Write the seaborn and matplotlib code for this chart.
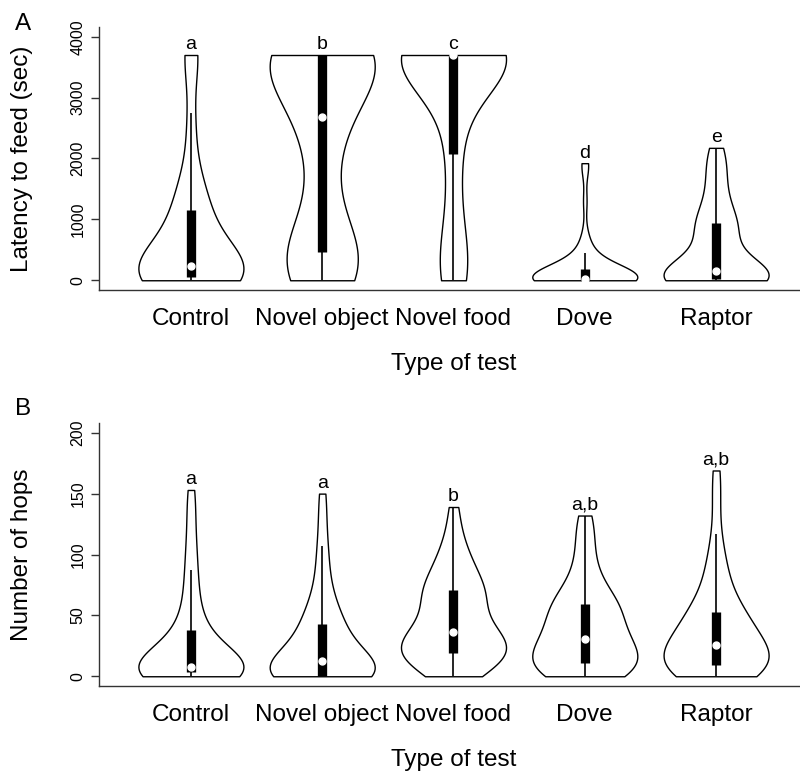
import matplotlib
matplotlib.use("Agg")
import matplotlib.pyplot as plt
from matplotlib import cbook
import numpy as np
import pandas as pd
import seaborn as sns

# ---------------- data ----------------
categories = ["Control", "Novel object", "Novel food", "Dove", "Raptor"]
letters_latency = ["a", "b", "c", "d", "e"]
letters_hops = ["a", "a", "b", "a,b", "a,b"]
latency_ticks = [0, 1000, 2000, 3000, 4000]
hops_ticks = [0, 50, 100, 150, 200]

latency_control = [0, 0, 0, 5, 10, 15, 20, 30, 40, 50,
                   60, 80, 100, 120, 140, 160, 170, 180, 200, 210,
                   250, 320, 400, 480, 560, 650, 750, 880, 1000, 1130,
                   1200, 1280, 1400, 1550, 1750, 2300, 2743, 3700, 3700, 3700]
latency_novel_object = [0, 0, 30, 60, 100, 150, 220, 290, 350, 400,
                        480, 650, 800, 1000, 1300, 1700, 2100, 2400, 2550, 2600,
                        2760, 2950, 3100, 3250, 3400, 3550, 3700, 3700, 3700, 3700,
                        3700, 3700, 3700, 3700, 3700, 3700, 3700, 3700, 3700, 3700]
latency_novel_food = [0, 0, 0, 100, 300, 500, 750, 1000, 1400, 2000,
                      2100, 2500, 2800, 3000, 3200, 3400, 3550, 3650, 3700, 3700,
                      3700, 3700, 3700, 3700, 3700, 3700, 3700, 3700, 3700, 3700,
                      3700, 3700, 3700, 3700, 3700, 3700, 3700, 3700, 3700, 3700]
latency_dove = [0, 0, 0, 0, 0, 0, 0, 0, 0, 0,
                3, 5, 7, 9, 11, 13, 15, 17, 20, 22,
                28, 40, 55, 70, 90, 110, 130, 150, 165, 180,
                200, 260, 320, 390, 450, 560, 750, 1300, 1850, 1923]
latency_raptor = [0, 0, 0, 0, 0, 0, 0, 0, 5, 10,
                  20, 35, 50, 65, 80, 95, 110, 125, 140, 150,
                  170, 260, 380, 500, 600, 690, 770, 840, 900, 935,
                  960, 1050, 1150, 1280, 1420, 1580, 1750, 1900, 2050, 2175]

hops_control = [0, 0, 0, 1, 1, 2, 2, 3, 3, 3,
                4, 4, 5, 5, 6, 6, 7, 7, 8, 8,
                8, 10, 12, 14, 17, 20, 24, 28, 32, 37,
                40, 45, 55, 65, 75, 87, 100, 115, 135, 153]
hops_novel_object = [0, 0, 0, 0, 0, 0, 0, 0, 0, 0,
                     0, 2, 3, 4, 6, 7, 8, 9, 10, 12,
                     13, 16, 19, 22, 26, 29, 33, 36, 40, 42,
                     46, 50, 55, 62, 70, 80, 95, 107, 128, 150]
hops_novel_food = [0, 2, 5, 8, 10, 12, 14, 16, 17, 18,
                   20, 22, 24, 26, 27, 28, 30, 32, 34, 35,
                   37, 42, 46, 50, 54, 58, 62, 65, 68, 70,
                   72, 75, 79, 84, 89, 94, 100, 108, 120, 139]
hops_dove = [0, 0, 1, 3, 4, 5, 6, 7, 8, 9,
             11, 14, 17, 19, 21, 23, 25, 27, 29, 30,
             32, 36, 40, 43, 46, 49, 52, 55, 57, 59,
             61, 64, 68, 73, 80, 88, 98, 110, 122, 132]
hops_raptor = [0, 0, 1, 2, 3, 4, 5, 6, 7, 8,
               10, 12, 14, 16, 18, 19, 21, 22, 24, 25,
               27, 30, 33, 36, 39, 42, 45, 48, 50, 52,
               55, 60, 66, 74, 82, 90, 100, 117, 145, 169]

latency_groups = [latency_control, latency_novel_object, latency_novel_food,
                  latency_dove, latency_raptor]
hops_groups = [hops_control, hops_novel_object, hops_novel_food,
               hops_dove, hops_raptor]

# ---------------- style ----------------
sns.set_style("white")
plt.rcParams["font.family"] = ["Liberation Sans", "DejaVu Sans"]
AXC = "#333333"
BIG = 17.5


def long_df(groups):
    rows = []
    for cat, vals in zip(categories, groups):
        for v in vals:
            rows.append((cat, v))
    return pd.DataFrame(rows, columns=["test", "value"])


def panel(ax, groups, letters, yticks, ylim, ylabel):
    df = long_df(groups)
    sns.violinplot(data=df, x="test", y="value", order=categories, ax=ax,
                   color="white", linecolor="black", linewidth=1.0,
                   inner=None, cut=0, density_norm="width", width=0.8,
                   bw_method="scott", bw_adjust=0.9, saturation=1)
    for i, vals in enumerate(groups):
        st = cbook.boxplot_stats(np.asarray(vals, float), whis=1.5)[0]
        ax.vlines(i, st["whislo"], st["whishi"], color="black", lw=1.2, zorder=3)
        lc = ax.vlines(i, st["q1"], st["q3"], color="black", lw=6.7, zorder=4)
        lc.set_capstyle("butt")
        ax.plot([i], [st["med"]], "o", color="white", mec="white", ms=5, zorder=5)
        ax.annotate(letters[i], xy=(i, max(vals)), xytext=(0, 4),
                    textcoords="offset points", ha="center", va="baseline",
                    fontsize=14, color="black")
    ax.set_xlim(-0.7, 4.7)
    ax.set_ylim(*ylim)
    ax.set_yticks(yticks)
    ax.set_yticklabels([str(t) for t in yticks], rotation=90, va="center",
                       fontsize=11.5)
    ax.set_xticks(range(len(categories)))
    ax.set_xticklabels(categories, fontsize=BIG)
    ax.tick_params(axis="x", length=0, pad=13, colors="black")
    ax.tick_params(axis="y", left=True, length=5.8, width=1.0, pad=4,
                   direction="out", color=AXC, labelcolor="black")
    for s in ["top", "right"]:
        ax.spines[s].set_visible(False)
    for s in ["left", "bottom"]:
        ax.spines[s].set_color(AXC)
        ax.spines[s].set_linewidth(1.0)
    ax.set_xlabel("Type of test", fontsize=BIG, color="black")
    ax.xaxis.set_label_coords(0.5, -0.24)
    ax.set_ylabel(ylabel, fontsize=BIG, color="black")
    ax.yaxis.set_label_coords(-0.093, 0.5)
    ax.grid(False)


fig = plt.figure(figsize=(8, 7.75), dpi=100)
axA = fig.add_axes([99 / 800, (775 - 290) / 775, 709 / 800, 263 / 775])
axB = fig.add_axes([99 / 800, (775 - 686) / 775, 709 / 800, 263 / 775])

panel(axA, latency_groups, letters_latency, latency_ticks, (-160, 4160),
      "Latency to feed (sec)")
panel(axB, hops_groups, letters_hops, hops_ticks, (-8, 208), "Number of hops")

fig.text(15 / 800, 1 - 13 / 775, "A", fontsize=BIG, ha="left", va="top",
         color="black")
fig.text(15 / 800, 1 - 398 / 775, "B", fontsize=BIG, ha="left", va="top",
         color="black")

fig.savefig("out.png", dpi=100, facecolor="white")
